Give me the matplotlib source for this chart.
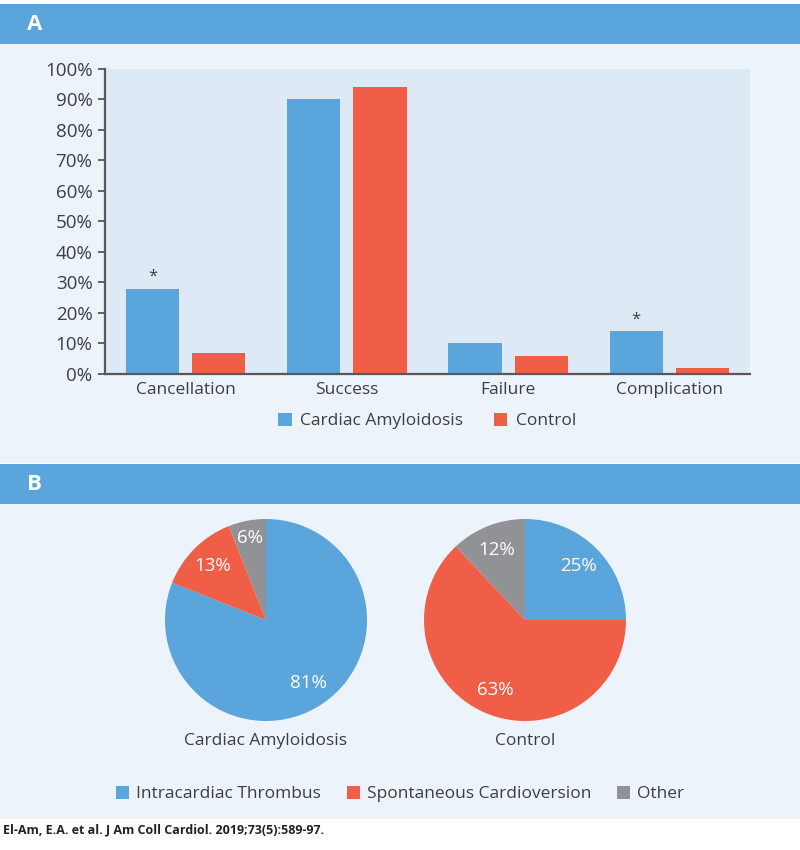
import matplotlib.pyplot as plt
import numpy as np
from matplotlib.patches import Rectangle, Patch

plt.rcParams['font.family'] = ['Open Sans', 'DejaVu Sans']

# panel A data
categories = ["Cancellation", "Success", "Failure", "Complication"]
amyloid_pct = [28, 90, 10, 14]
control_pct = [7, 94, 6, 2]
significant = [True, False, False, True]
yticks = list(range(0, 101, 10))

# panel B data
pie_labels = ["Intracardiac Thrombus", "Spontaneous Cardioversion", "Other"]
amyloid_pie = [81, 13, 6]
control_pie = [25, 63, 12]
pie_titles = ["Cardiac Amyloidosis", "Control"]

BLUE = "#5AA5DC"
RED = "#F05E48"
GRAY = "#919296"
PANEL = "#ECF3FB"
PLOTBG = "#DDEAF6"
TXT = "#3E3E40"

W, H = 800, 850
fig = plt.figure(figsize=(W / 100, H / 100), dpi=100, facecolor="white")


def rect(x0, y0, x1, y1):
    # pixel box (top-left origin) -> figure fraction
    return [x0 / W, 1 - y1 / H, (x1 - x0) / W, (y1 - y0) / H]


def band(x0, y0, x1, y1, color):
    r = rect(x0, y0, x1, y1)
    fig.patches.append(Rectangle((r[0], r[1]), r[2], r[3], transform=fig.transFigure,
                                 facecolor=color, edgecolor="none", zorder=-5))


# backgrounds and headers
band(0, 44, 800, 463, PANEL)
band(0, 504, 800, 819, PANEL)
band(0, 4, 800, 44, BLUE)
band(0, 464, 800, 504, BLUE)
fig.text(27 / W, 1 - 24 / H, "A", color="white", fontsize=16, fontweight="bold", va="center")
fig.text(27 / W, 1 - 484 / H, "B", color="white", fontsize=16, fontweight="bold", va="center")

# ---- panel A: grouped bars
ax = fig.add_axes(rect(105, 69, 750, 374))
ax.set_facecolor(PLOTBG)
x = np.arange(len(categories))
off = 0.205
w = 0.33
ax.bar(x - off, amyloid_pct, w, color=BLUE, label="Cardiac Amyloidosis", zorder=2)
ax.bar(x + off, control_pct, w, color=RED, label="Control", zorder=2)
for i, s in enumerate(significant):
    if s:
        ax.text(x[i] - off, amyloid_pct[i] + 1.2, "*", ha="center", va="bottom",
                fontsize=12, color=TXT)
ax.set_xlim(-0.5, 3.5)
ax.set_ylim(0, 100)
ax.set_yticks(yticks)
ax.set_yticklabels([f"{t}%" for t in yticks], fontsize=13.5, color=TXT)
ax.set_xticks(x)
ax.set_xticklabels(categories, fontsize=12.5, color=TXT)
ax.tick_params(axis="x", length=0, pad=6)
ax.tick_params(axis="y", length=5, width=1.3, color="#58585A", pad=4)
for sp in ["top", "right"]:
    ax.spines[sp].set_visible(False)
for sp in ["left", "bottom"]:
    ax.spines[sp].set_color("#58585A")
    ax.spines[sp].set_linewidth(1.6)
ax.legend(loc="center", bbox_to_anchor=(0.5, -0.155), ncol=2, frameon=False,
          fontsize=12.5, handlelength=0.75, handleheight=0.75, handletextpad=0.5,
          columnspacing=1.8, labelcolor=TXT)

# ---- panel B: pies
colors = [BLUE, RED, GRAY]
R = 101
for cx, vals, title in [(266, amyloid_pie, pie_titles[0]), (525, control_pie, pie_titles[1])]:
    pax = fig.add_axes(rect(cx - R, 620 - R, cx + R, 620 + R))
    pax.patch.set_visible(False)
    wedges, _, autotexts = pax.pie(vals, colors=colors, startangle=90, counterclock=False,
                                   autopct="%d%%", pctdistance=0.75,
                                   wedgeprops=dict(linewidth=0),
                                   textprops=dict(color="white", fontsize=13.5))
    for t, v in zip(autotexts, vals):
        if v < 10:
            px, py = t.get_position()
            t.set_position((px * 0.83 / 0.75, py * 0.83 / 0.75))
    pax.set_xlim(-1, 1)
    pax.set_ylim(-1, 1)
    pax.set_aspect("equal")
    pax.text(0, -1.2, title, ha="center", va="center", fontsize=12.5, color=TXT,
             clip_on=False)

handles = [Patch(facecolor=c, edgecolor="none") for c in colors]
fig.legend(handles, pie_labels, loc="center", bbox_to_anchor=(0.5, 1 - 794 / H), ncol=3,
           frameon=False, fontsize=12.5, handlelength=0.75, handleheight=0.75,
           handletextpad=0.4, columnspacing=1.5, labelcolor=TXT)

fig.text(3 / W, 1 - 830 / H, "El-Am, E.A. et al. J Am Coll Cardiol. 2019;73(5):589-97.",
         fontsize=9, fontweight="bold", color="#222222", va="center")

fig.savefig("out.png", dpi=100, facecolor="white")
